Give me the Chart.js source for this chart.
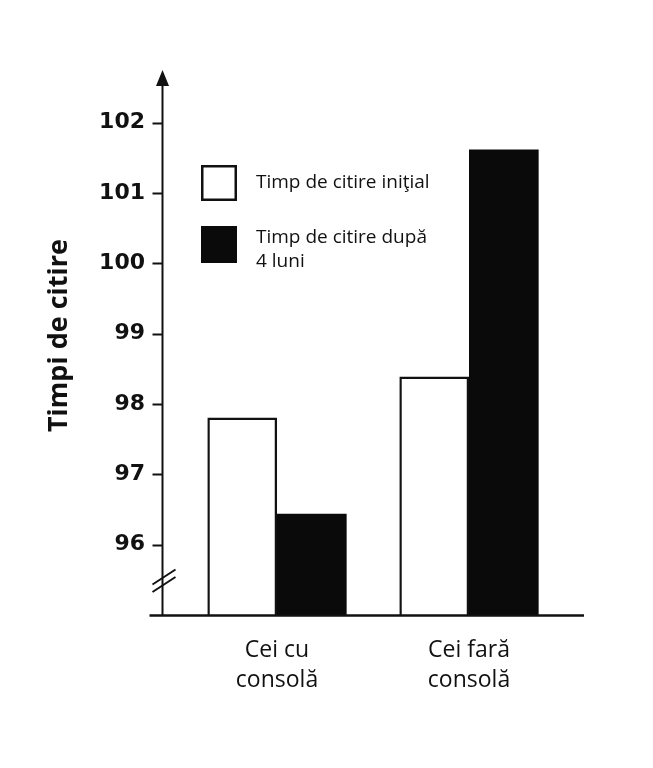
<!DOCTYPE html>
<html>
<head>
<meta charset="utf-8">
<script src="https://cdn.jsdelivr.net/npm/chart.js@4.4.1/dist/chart.umd.min.js"></script>
<style>
  html, body { margin: 0; padding: 0; background: #fff; }
  canvas { display: block; }
</style>
</head>
<body>
<canvas id="chart" width="653" height="768"></canvas>
<script>
// values
const categories = [['Cei cu', 'consolă'], ['Cei fară', 'consolă']];
const initialTimes = [97.81, 98.39];
const afterTimes = [96.44, 101.62];
const yTicks = [96, 97, 98, 99, 100, 101, 102];
const seriesLabels = ['Timp de citire iniţial', 'Timp de citire după\n4 luni'];
const axisTitle = 'Timpi de citire';

// hand drawn axes, arrow, axis break, legend and the rotated title
const decorations = {
  id: 'decorations',
  afterDraw(chart) {
    const ctx = chart.ctx;
    const area = chart.chartArea;
    const y = chart.scales.y;
    const axisX = area.left - 18.5;
    const axisY = area.bottom + 0.5;

    ctx.save();
    ctx.strokeStyle = '#111';
    ctx.fillStyle = '#111';

    // y axis line + arrow head
    ctx.lineWidth = 2;
    ctx.beginPath();
    ctx.moveTo(axisX, axisY);
    ctx.lineTo(axisX, area.top);
    ctx.stroke();
    ctx.beginPath();
    ctx.moveTo(axisX - 6.5, area.top + 1);
    ctx.lineTo(axisX + 6.5, area.top + 1);
    ctx.lineTo(axisX, area.top - 15);
    ctx.closePath();
    ctx.fill();

    // tick marks
    yTicks.forEach(v => {
      const py = Math.round(y.getPixelForValue(v)) + 0.5;
      ctx.beginPath();
      ctx.moveTo(axisX - 10, py);
      ctx.lineTo(axisX, py);
      ctx.stroke();
    });

    // axis break
    ctx.lineWidth = 2;
    [0, 7.5].forEach(d => {
      ctx.beginPath();
      ctx.moveTo(axisX - 10, axisY - 31 + d);
      ctx.lineTo(axisX + 13, axisY - 46 + d);
      ctx.stroke();
    });

    // x axis line
    ctx.lineWidth = 2.5;
    ctx.beginPath();
    ctx.moveTo(axisX - 13, axisY);
    ctx.lineTo(area.right + 19, axisY);
    ctx.stroke();

    // legend
    ctx.font = '19px "Open Sans"';
    ctx.textAlign = 'left';
    ctx.textBaseline = 'middle';
    chart.data.datasets.forEach((ds, i) => {
      const top = 165 + i * 61;
      if (ds.backgroundColor === '#ffffff') {
        ctx.fillStyle = '#fff';
        ctx.fillRect(201, top, 36, 36);
        ctx.lineWidth = 2.5;
        ctx.strokeRect(202.25, top + 1.25, 33.5, 33.5);
      } else {
        ctx.fillStyle = '#0a0a0a';
        ctx.fillRect(201, top, 36, 37);
      }
      ctx.fillStyle = '#111';
      const lines = ds.label.split('\n');
      lines.forEach((ln, j) => {
        ctx.fillText(ln, 256, top + 18 - 6 * (lines.length - 1) + j * 24);
      });
    });

    // rotated axis title
    ctx.font = 'bold 27px "Open Sans"';
    ctx.textAlign = 'center';
    ctx.textBaseline = 'alphabetic';
    ctx.translate(67, 335.5);
    ctx.rotate(-Math.PI / 2);
    ctx.fillText(axisTitle, 0, 0);
    ctx.restore();
  }
};

new Chart(document.getElementById('chart'), {
  type: 'bar',
  data: {
    labels: categories,
    datasets: [
      {
        label: seriesLabels[0],
        data: initialTimes,
        backgroundColor: '#ffffff',
        borderColor: '#111',
        borderWidth: 2.5
      },
      {
        label: seriesLabels[1],
        data: afterTimes,
        backgroundColor: '#0a0a0a',
        borderColor: '#0a0a0a',
        borderWidth: 0
      }
    ]
  },
  options: {
    responsive: false,
    animation: false,
    layout: { padding: { left: 0, right: 88, top: 85, bottom: 0 } },
    datasets: {
      bar: { barPercentage: 1, categoryPercentage: 0.7255 }
    },
    plugins: {
      legend: { display: false },
      tooltip: { enabled: false }
    },
    scales: {
      x: {
        grid: { display: false, drawTicks: false },
        border: { display: false },
        ticks: {
          color: '#111',
          padding: 21,
          font: { family: '"Open Sans"', size: 23, lineHeight: 1.3 }
        },
        afterFit: s => { s.height = 153; }
      },
      y: {
        min: 95,
        max: 102.536,
        grid: { display: false, drawTicks: false },
        border: { display: false },
        afterBuildTicks: s => { s.ticks = yTicks.map(v => ({ value: v })); },
        ticks: {
          color: '#111',
          padding: 36,
          font: { family: '"DejaVu Sans"', size: 22, weight: 'bold' }
        },
        afterFit: s => { s.width = 181; }
      }
    }
  },
  plugins: [decorations]
});
</script>
</body>
</html>
